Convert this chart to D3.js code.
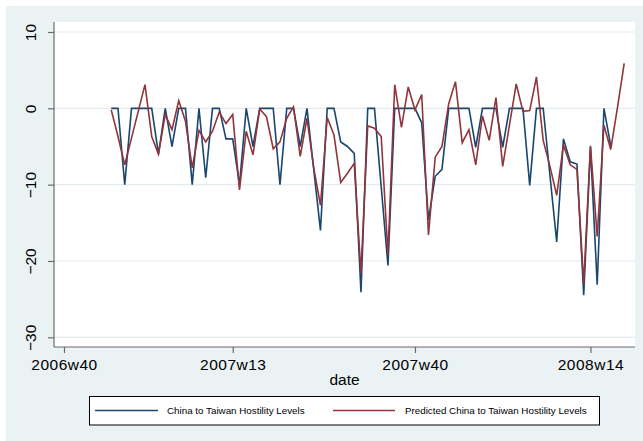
<!DOCTYPE html>
<html>
<head>
<meta charset="utf-8">
<script src="https://cdn.jsdelivr.net/npm/d3@7"></script>
<style>
  html, body { margin: 0; padding: 0; background: #ffffff; }
  svg { display: block; font-family: "Liberation Sans", Arial, Helvetica, sans-serif; }
</style>
</head>
<body>
<svg id="chart" width="643" height="441"></svg>
<script>
// Weekly observations, Stata %tw numbering (weeks since 1960w1, 52 per year)
const firstWeek = 2438;   // 2006w47
const lastWeek = 2514;    // 2008w19

// Observed China-to-Taiwan hostility level (ends at 2008w17)
const observed = [
  0, 0, -10, 0, 0, 0, 0, -6, 0, -5,
  0, 0, -10, 0, -9.1, 0, 0, -4, -4, -10,
  0, -5, 0, 0, 0, -10, 0, 0, -5, 0,
  -8, -16, 0, 0, -4.4, -5, -5.9, -24.1, 0, 0,
  -10.3, -20.6, 0, 0, 0, 0, -1.9, -14.6, -8.9, -8,
  0, 0, 0, 0, -5.1, 0, 0, 0, -5.1, 0,
  0, 0, -10.1, 0, 0, -8.8, -17.5, -4, -7, -7.3,
  -24.5, -5.1, -23.1, 0, -4.9, null, null
];

// Model prediction of the same series
const predicted = [
  -0.2, -3.7, -7.4, -3.9, -0.4, 3.1, -3.7, -6.0, -0.8, -2.8,
  1.0, -1.7, -7.8, -2.9, -4.4, -3.0, -0.5, -2.0, -0.8, -10.7,
  -3.0, -6.1, -0.1, -1.1, -5.3, -4.4, -1.3, 0.2, -6.3, -1.3,
  -7.8, -12.7, -1.2, -3.5, -9.7, -8.5, -7.2, -21.6, -2.3, -2.6,
  -3.7, -19.2, 3.1, -2.5, 2.8, -0.2, 1.8, -16.6, -6.4, -5.0,
  0.6, 3.5, -4.5, -2.8, -7.4, -1.0, -4.2, 1.4, -7.6, -2.2,
  3.2, -0.4, -0.3, 4.1, -4.2, -7.6, -11.4, -4.8, -7.4, -8.0,
  -23.0, -4.9, -16.8, -2.2, -5.4, 0.1, 5.9
];

const xTickWeeks = [2431, 2456, 2483, 2509];
const yTickValues = [10, 0, -10, -20, -30];

const seriesNames = [
  "China to Taiwan Hostility Levels",
  "Predicted China to Taiwan Hostility Levels"
];
const seriesColors = ["#1a476f", "#90353b"];

const weeks = d3.range(firstWeek, lastWeek + 1);
const fmtWeek = w => `${1960 + Math.floor(w / 52)}w${(w % 52) + 1}`;

const svg = d3.select("#chart");
const W = 643, H = 441;

// Graph region
svg.append("rect").attr("x", 6).attr("y", 6).attr("width", W - 6).attr("height", H - 6)
  .attr("fill", "#eaf2f3");

const plot = { left: 54, right: 635, top: 22, bottom: 347 };

svg.append("rect")
  .attr("x", plot.left).attr("y", plot.top)
  .attr("width", plot.right - plot.left).attr("height", plot.bottom - plot.top)
  .attr("fill", "#ffffff");

const x = d3.scaleLinear().domain([2429.52, 2515.6]).range([plot.left, plot.right]);
const y = d3.scaleLinear().domain([-30, 10]).range([337.3, 32]);

// Horizontal grid
svg.append("g").selectAll("line").data(yTickValues).join("line")
  .attr("x1", plot.left).attr("x2", plot.right)
  .attr("y1", d => y(d)).attr("y2", d => y(d))
  .attr("stroke", "#e3ecee").attr("stroke-width", 1.2);

// Y axis
const yAxis = svg.append("g").attr("transform", `translate(${plot.left},0)`)
  .call(d3.axisLeft(y).tickValues(yTickValues).tickSize(6).tickPadding(0).tickFormat(d3.format("d")));
yAxis.select(".domain").attr("d", `M0,${plot.top}V${plot.bottom}`).attr("stroke", "#6b6b6b").attr("stroke-width", 1.2);
yAxis.selectAll(".tick line").attr("stroke", "#6b6b6b").attr("stroke-width", 1.2);
yAxis.selectAll(".tick text")
  .attr("x", 0).attr("dy", null)
  .attr("transform", "translate(-18,0) rotate(-90)")
  .attr("text-anchor", "middle")
  .attr("fill", "#000")
  .style("font-size", "15.5px")
  .style("font-family", "'Liberation Sans', Arial, sans-serif")
  .attr("y", 0);

// X axis
const xAxis = svg.append("g").attr("transform", `translate(0,${plot.bottom})`)
  .call(d3.axisBottom(x).tickValues(xTickWeeks).tickSize(6).tickPadding(0).tickFormat(fmtWeek));
xAxis.select(".domain").attr("d", `M${plot.left},0H${plot.right}`).attr("stroke", "#6b6b6b").attr("stroke-width", 1.2);
xAxis.selectAll(".tick line").attr("stroke", "#6b6b6b").attr("stroke-width", 1.2);
xAxis.selectAll(".tick text")
  .attr("y", 23).attr("dy", null)
  .attr("fill", "#000")
  .style("font-size", "15.5px")
  .style("letter-spacing", "0.5px")
  .style("font-family", "'Liberation Sans', Arial, sans-serif");

svg.append("text")
  .attr("x", (plot.left + plot.right) / 2).attr("y", 385)
  .attr("text-anchor", "middle")
  .style("font-size", "15.5px")
  .text("date");

// Series lines
const line = d3.line()
  .defined(d => d.v !== null)
  .x(d => x(d.w))
  .y(d => y(d.v));

[observed, predicted].forEach((vals, i) => {
  const pts = weeks.map((w, k) => ({ w, v: vals[k] }));
  svg.append("path")
    .datum(pts)
    .attr("d", line)
    .attr("fill", "none")
    .attr("stroke", seriesColors[i])
    .attr("stroke-width", 1.6)
    .attr("stroke-linejoin", "miter");
});

// Legend
const legend = svg.append("g");
legend.append("rect")
  .attr("x", 89.5).attr("y", 396.5).attr("width", 510).attr("height", 28.5)
  .attr("fill", "#ffffff").attr("stroke", "#000").attr("stroke-width", 1);

const keys = [
  { x1: 95, x2: 158, tx: 167 },
  { x1: 333, x2: 395, tx: 405 }
];
keys.forEach((k, i) => {
  legend.append("line")
    .attr("x1", k.x1).attr("x2", k.x2).attr("y1", 410.5).attr("y2", 410.5)
    .attr("stroke", seriesColors[i]).attr("stroke-width", 1.6);
  legend.append("text")
    .attr("x", k.tx).attr("y", 414)
    .style("font-size", "9.8px")
    .text(seriesNames[i]);
});
</script>
</body>
</html>
